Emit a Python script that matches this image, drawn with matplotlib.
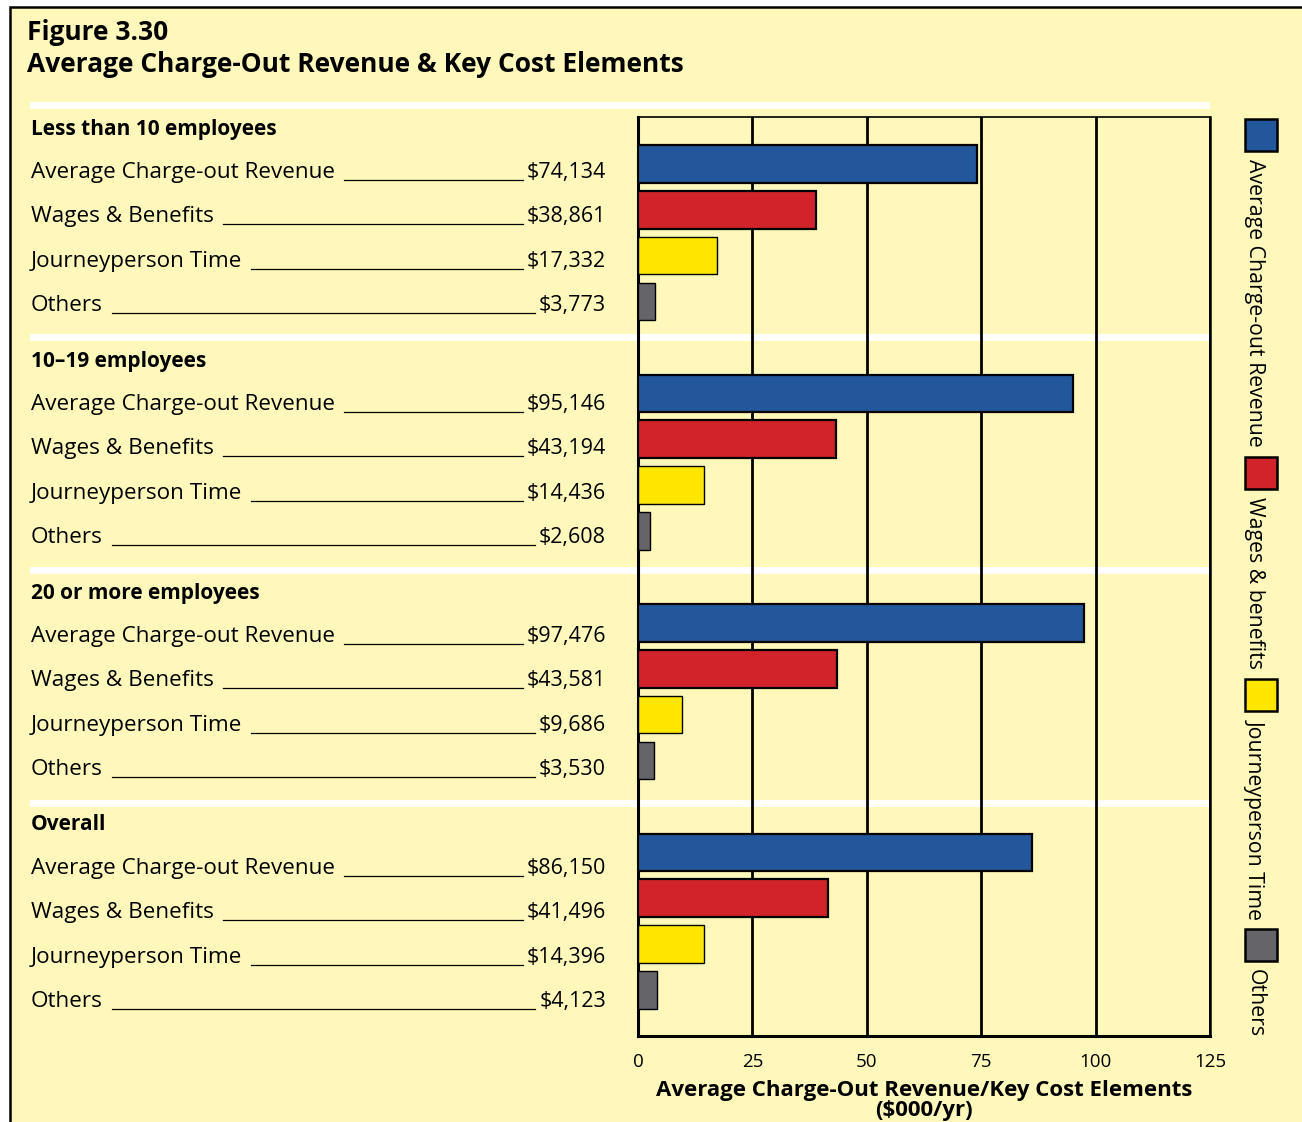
import matplotlib
matplotlib.use('Agg')
import matplotlib.pyplot as plt
import matplotlib.transforms as mtransforms
from matplotlib.patches import Rectangle
from matplotlib.lines import Line2D

# data
groups = ['Less than 10 employees', '10–19 employees', '20 or more employees', 'Overall']
items = ['Average Charge-out Revenue', 'Wages & Benefits', 'Journeyperson Time', 'Others']
legend_labels = ['Average Charge-out Revenue', 'Wages & benefits', 'Journeyperson Time', 'Others']
revenue = [74134, 95146, 97476, 86150]
wages = [38861, 43194, 43581, 41496]
journey = [17332, 14436, 9686, 14396]
others = [3773, 2608, 3530, 4123]
xticks = [0, 25, 50, 75, 100, 125]

colors = ['#22579c', '#d2232a', '#ffe600', '#646469']
edge_w = [1.6, 1.6, 1.0, 1.0]
bg = '#fff8ba'

plt.rcParams['font.family'] = ['Open Sans', 'DejaVu Sans']

W, H = 1302, 1122
fig = plt.figure(figsize=(W / 100, H / 100), dpi=100, facecolor='white')

def fx(px):
    return px / W

def fy(py):
    return 1 - py / H

# yellow panel with black border
fig.patches.append(Rectangle((fx(10), -0.05), 1.2, fy(7) + 0.05, transform=fig.transFigure,
                             facecolor=bg, edgecolor='black', lw=1.8, zorder=-3))

fig.text(fx(27), fy(40), 'Figure 3.30', fontsize=19, fontweight='bold', va='baseline')
fig.text(fx(27), fy(72), 'Average Charge-Out Revenue & Key Cost Elements', fontsize=19,
         fontweight='bold', va='baseline')

ax = fig.add_axes([fx(638), fy(1036), fx(1210 - 638), (1036 - 117) / H])
ax.set_facecolor('none')

series = [revenue, wages, journey, others]
for k, vals in enumerate(series):
    ys = [g * 5 + 1 + k for g in range(len(groups))]
    ax.barh(ys, [v / 1000 for v in vals], height=0.82, color=colors[k],
            edgecolor='black', linewidth=edge_w[k], zorder=3)

ax.set_xlim(0, 125)
ax.set_ylim(20.0, -0.02)
ax.set_yticks([])
ax.set_xticks(xticks)
ax.set_xticklabels([str(t) for t in xticks])
ax.grid(axis='x', color='black', lw=2, zorder=1)
ax.tick_params(axis='x', length=0, labelsize=13.5, pad=12)
for side, lw in [('left', 2.2), ('bottom', 2.2), ('top', 1.2), ('right', 1.8)]:
    ax.spines[side].set_linewidth(lw)
ax.set_xlabel('Average Charge-Out Revenue/Key Cost Elements\n($000/yr)', fontsize=16,
              fontweight='bold', labelpad=7, linespacing=0.92)

# white separator bands and group headers
for g, name in enumerate(groups):
    fig.patches.append(Rectangle((fx(30), fy(105 + g * 232.7 + 3.5)), fx(1210 - 30), 7 / H,
                                 transform=fig.transFigure, facecolor='white',
                                 edgecolor='none', zorder=-2))
    fig.text(fx(31), fy(126 + g * 232 + 8.5), name, fontsize=15, fontweight='bold',
             va='baseline')

labels = []
for g in range(len(groups)):
    for k, vals in enumerate(series):
        py = 170 + g * 232 + k * 44.4 + 8
        t1 = fig.text(fx(31), fy(py), items[k], fontsize=16.2, va='baseline')
        t2 = fig.text(fx(606), fy(py), f'${vals[g]:,}', fontsize=15.5,
                      va='baseline', ha='right')
        labels.append((t1, t2, py))

fig.canvas.draw()
rend = fig.canvas.get_renderer()
for t1, t2, py in labels:
    b1 = t1.get_window_extent(rend)
    b2 = t2.get_window_extent(rend)
    base = H - py
    fig.add_artist(Line2D([b1.x1 + 9, b2.x0 - 4], [base - 2, base - 2], color='black', lw=0.9,
                          transform=mtransforms.IdentityTransform()))

# legend down the right side, text rotated
cur = 119
for k, name in enumerate(legend_labels):
    fig.patches.append(Rectangle((fx(1245), fy(cur + 32)), fx(32), 32 / H, transform=fig.transFigure,
                                 facecolor=colors[k], edgecolor='black', lw=1.8, zorder=5))
    cur += 32 + 8
    t = fig.text(fx(1255), fy(cur), name, rotation=270, ha='center', va='top', fontsize=15.3)
    h = t.get_window_extent(rend).height
    cur += h + 10

fig.savefig('out.png', dpi=100, facecolor='white')
